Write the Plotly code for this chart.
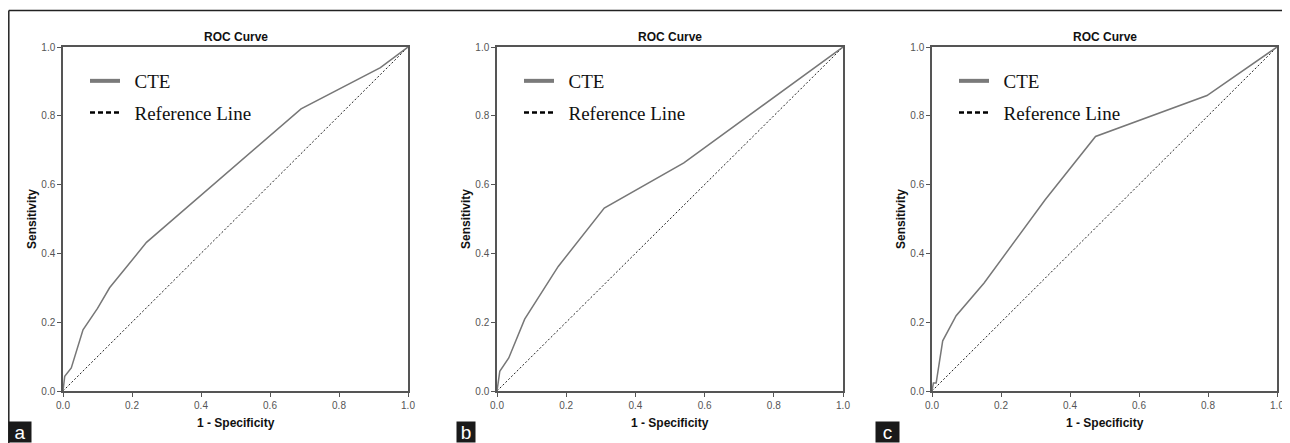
import plotly.graph_objects as go

# The page body has an 8px margin, so the figure is drawn 8px smaller and
# reference pixel positions are shifted by that offset.
OFF = 8
W, H = 1290 - OFF, 443 - OFF

panel_labels = ["a", "b", "c"]
chart_title = "ROC Curve"
x_title = "1 - Specificity"
y_title = "Sensitivity"
legend_names = ["CTE", "Reference Line"]
tick_vals = [0.0, 0.2, 0.4, 0.6, 0.8, 1.0]
tick_text = ["0.0", "0.2", "0.4", "0.6", "0.8", "1.0"]

# ROC curves (1 - specificity, sensitivity)
fpr_a = [0.0, 0.005, 0.024, 0.058, 0.10, 0.135, 0.242, 0.69, 0.92, 1.0]
tpr_a = [0.0, 0.043, 0.067, 0.178, 0.24, 0.30, 0.432, 0.82, 0.94, 1.0]

fpr_b = [0.0, 0.008, 0.034, 0.08, 0.177, 0.31, 0.54, 0.833, 1.0]
tpr_b = [0.0, 0.057, 0.096, 0.209, 0.362, 0.532, 0.663, 0.876, 1.0]

fpr_c = [0.0, 0.004, 0.012, 0.031, 0.07, 0.151, 0.328, 0.474, 0.797, 1.0]
tpr_c = [0.0, 0.023, 0.023, 0.146, 0.219, 0.314, 0.556, 0.74, 0.859, 1.0]

ref_x = [0.0, 1.0]
ref_y = [0.0, 1.0]

curves = [(fpr_a, tpr_a), (fpr_b, tpr_b), (fpr_c, tpr_c)]

# layout in reference pixels
plot_left = [63, 497, 932]
plot_right = [408, 843, 1277]
plot_top, plot_bottom = 47, 391
label_box_left = [8, 456, 875]
label_box_w = [22, 18, 23]

def px(x):
    return (x - OFF) / W

def py(y):
    return 1 - (y - OFF) / H

fig = go.Figure()
annotations = []
shapes = []
axis_font = dict(family="Liberation Sans, Arial", size=10, color="#555555")
NB = "\u00a0\u00a0"

for i, (fx, ty) in enumerate(curves):
    n = "" if i == 0 else str(i + 1)
    xa, ya = "x" + n, "y" + n
    lg = "legend" + n
    fig.add_trace(go.Scatter(x=ref_x, y=ref_y, mode="lines", xaxis=xa, yaxis=ya,
                             line=dict(color="#222222", width=1, dash="2px,2px"),
                             showlegend=False, hoverinfo="skip"))
    fig.add_trace(go.Scatter(x=fx, y=ty, mode="lines", xaxis=xa, yaxis=ya,
                             line=dict(color="#777777", width=1.5),
                             showlegend=False))
    # legend-only entries
    fig.add_trace(go.Scatter(x=[None], y=[None], mode="lines", xaxis=xa, yaxis=ya,
                             line=dict(color="#7a7a7a", width=4),
                             name=NB + legend_names[0], legend=lg, legendgroup="g1" + n))
    fig.add_trace(go.Scatter(x=[None], y=[None], mode="lines", xaxis=xa, yaxis=ya,
                             line=dict(color="#000000", width=2.5, dash="5px,3px"),
                             name=NB + legend_names[1], legend=lg, legendgroup="g2" + n))

    axcommon = dict(range=[0, 1], showline=True, mirror=True, linecolor="#555555",
                    linewidth=1.5, ticks="outside", ticklen=4, tickwidth=1,
                    tickcolor="#555555", tickvals=tick_vals, ticktext=tick_text,
                    tickfont=axis_font, showgrid=False, zeroline=False, fixedrange=True,
                    automargin=False)
    fig.update_layout(**{
        "xaxis" + n: dict(domain=[px(plot_left[i]), px(plot_right[i])], anchor=ya, **axcommon),
        "yaxis" + n: dict(domain=[py(plot_bottom), py(plot_top)], anchor=xa, **axcommon),
        lg: dict(x=px(plot_left[i] + 22), y=py(plot_top + 15), xanchor="left", yanchor="top",
                 bgcolor="rgba(0,0,0,0)", font=dict(family="Liberation Serif, Times New Roman",
                                                     size=19, color="#111111"),
                 tracegroupgap=4, itemwidth=30),
    })

    cx = (plot_left[i] + plot_right[i]) / 2
    annotations.append(dict(x=px(cx), y=py(37), xref="paper", yref="paper", text="<b>" + chart_title + "</b>",
                            showarrow=False, font=dict(family="Liberation Sans, Arial", size=12, color="#111"),
                            xanchor="center", yanchor="middle"))
    annotations.append(dict(x=px(cx), y=py(423), xref="paper", yref="paper", text="<b>" + x_title + "</b>",
                            showarrow=False, font=dict(family="Liberation Sans, Arial", size=12, color="#111"),
                            xanchor="center", yanchor="middle"))
    annotations.append(dict(x=px(plot_left[i] - 31), y=py((plot_top + plot_bottom) / 2), xref="paper", yref="paper",
                            text="<b>" + y_title + "</b>", textangle=-90, showarrow=False,
                            font=dict(family="Liberation Sans, Arial", size=12, color="#111"),
                            xanchor="center", yanchor="middle"))
    annotations.append(dict(x=px(label_box_left[i]), y=0, xref="paper", yref="paper", text=panel_labels[i],
                            showarrow=False, font=dict(family="Liberation Sans, Arial", size=19, color="white"),
                            bgcolor="#1a1a1a", width=label_box_w[i], height=20, borderpad=0,
                            xanchor="left", yanchor="bottom", align="center", valign="middle"))

shapes.append(dict(type="line", xref="paper", yref="paper", x0=px(8.8), x1=1, y0=py(10.5), y1=py(10.5),
                   line=dict(color="#222", width=1.5)))
shapes.append(dict(type="line", xref="paper", yref="paper", x0=px(8.8), x1=px(8.8), y0=py(10.5), y1=0,
                   line=dict(color="#222", width=1.5)))

fig.update_layout(width=W, height=H, margin=dict(l=0, r=0, t=0, b=0, pad=0, autoexpand=False),
                  paper_bgcolor="white", plot_bgcolor="white",
                  annotations=annotations, shapes=shapes)

fig.write_html("out.html")
